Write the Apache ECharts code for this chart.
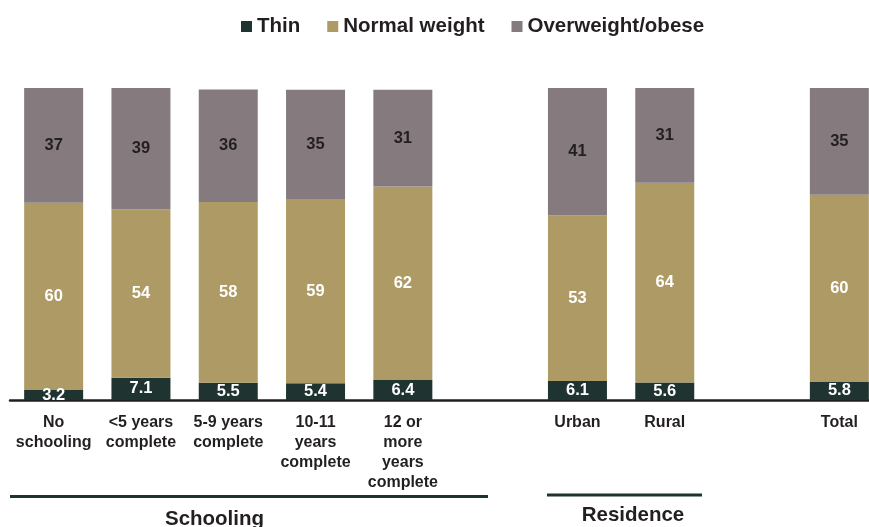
<!DOCTYPE html>
<html>
<head>
<meta charset="utf-8">
<script src="https://cdn.jsdelivr.net/npm/echarts@6/dist/echarts.min.js"></script>
<style>
  html, body { margin: 0; padding: 0; background: #ffffff; }
  #chart { width: 869px; height: 527px; }
</style>
</head>
<body>
<div id="chart"></div>
<script>
// Nutritional status by schooling and residence (percent)
const categories = [
  'No\nschooling', '<5 years\ncomplete', '5-9 years\ncomplete',
  '10-11\nyears\ncomplete', '12 or\nmore\nyears\ncomplete',
  '', 'Urban', 'Rural', ' ', 'Total'
];
const thin       = [3.2, 7.1, 5.5, 5.4, 6.4, null, 6.1, 5.6, null, 5.8];
const normal     = [60, 54, 58, 59, 62, null, 53, 64, null, 60];
const overweight = [37, 39, 36, 35, 31, null, 41, 31, null, 35];

const seriesNames = ['Thin', 'Normal weight', 'Overweight/obese'];
const colors = ['#1f3430', '#ad9a65', '#857b7e'];
const labelColors = ['#ffffff', '#ffffff', '#231f20'];

const FONT = 'Arial, "Liberation Sans", sans-serif';

const chart = echarts.init(document.getElementById('chart'));

function makeSeries(name, data, i) {
  return {
    name: name,
    type: 'bar',
    stack: 'total',
    data: data,
    barWidth: 59,
    itemStyle: { color: colors[i] },
    emphasis: { disabled: true },
    label: {
      show: true,
      position: 'inside',
      color: labelColors[i],
      fontFamily: FONT,
      fontWeight: 'bold',
      fontSize: 16.5,
      formatter: p => p.value == null ? '' : String(p.value)
    }
  };
}

chart.setOption({
  animation: false,
  color: colors,
  textStyle: { fontFamily: FONT },
  legend: {
    top: 11,
    left: 236,
    itemWidth: 11,
    itemHeight: 11,
    itemGap: 27,
    icon: 'rect',
    textStyle: { fontFamily: FONT, fontWeight: 'bold', fontSize: 20.5, color: '#231f20' },
    data: seriesNames
  },
  grid: { left: 10, width: 873, top: 88, bottom: 127, containLabel: false, outerBoundsMode: 'none' },
  xAxis: {
    type: 'category',
    data: categories,
    axisTick: { show: false },
    axisLine: { lineStyle: { color: '#231f20', width: 2.5 } },
    axisLabel: {
      interval: 0,
      margin: 13,
      color: '#231f20',
      fontFamily: FONT,
      fontWeight: 'bold',
      fontSize: 16,
      lineHeight: 20,
      verticalAlign: 'top'
    }
  },
  yAxis: { type: 'value', min: 0, max: 100, show: false, splitLine: { show: false } },
  series: [
    makeSeries(seriesNames[0], thin, 0),
    makeSeries(seriesNames[1], normal, 1),
    makeSeries(seriesNames[2], overweight, 2)
  ],
  graphic: [
    { type: 'line', shape: { x1: 10, y1: 496.5, x2: 488, y2: 496.5 }, style: { stroke: '#1f3430', lineWidth: 3 } },
    { type: 'line', shape: { x1: 547, y1: 495, x2: 702, y2: 495 }, style: { stroke: '#1f3430', lineWidth: 3 } },
    { type: 'text', x: 214.5, y: 519, style: { text: 'Schooling', fill: '#231f20', font: 'bold 20.5px ' + FONT, textAlign: 'center', textVerticalAlign: 'middle' } },
    { type: 'text', x: 633, y: 515, style: { text: 'Residence', fill: '#231f20', font: 'bold 20.5px ' + FONT, textAlign: 'center', textVerticalAlign: 'middle' } }
  ]
});
</script>
</body>
</html>
